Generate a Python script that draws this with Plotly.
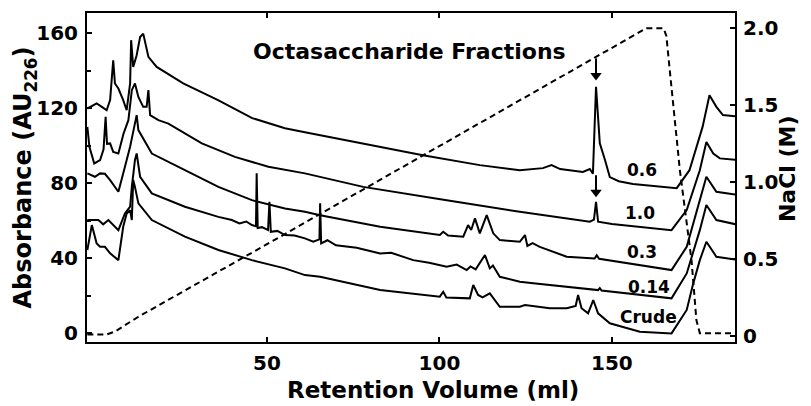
import plotly.graph_objects as go

# ---------------- data ----------------
vol_06 = [-2.1, 0.6, 2.1, 3.5, 4.5, 5.4, 5.9, 6.9, 8.3, 9.3, 10.3, 10.6, 11.2, 12.2, 13.2, 14.1,
          15.6, 18.0, 25.7, 35.8, 45.7, 55.2, 61.0, 73.2, 95.2, 111.7, 123.3, 130.0, 132.5, 135.0,
          141.6, 143.6, 144.5, 145.4, 146.5, 148.0, 149.4, 152.0, 156.1, 168.8, 172.5, 176.3,
          178.3, 180.3, 182.2, 187.0]
au_06 = [119.8, 122.5, 120.7, 118.9, 124.3, 145.6, 133.2, 130.5, 124.3, 118.9, 133.2, 156.3, 142.0,
         148.3, 158.0, 159.8, 147.4, 142.0, 133.2, 124.3, 114.7, 109.3, 107.2, 102.9, 94.9, 89.6,
         86.9, 88.0, 89.6, 87.5, 86.0, 87.5, 85.0, 131.4, 101.3, 92.3, 83.2, 81.0, 79.5, 77.3,
         86.9, 110.0, 126.9, 120.7, 116.3, 115.4]

vol_10 = [-2.1, -1.5, -0.1, 1.6, 2.6, 3.2, 3.6, 4.5, 5.4, 6.9, 8.4, 9.8, 10.8, 11.7, 12.7, 14.1,
          15.1, 15.6, 16.1, 18.5, 21.4, 31.1, 40.7, 50.4, 61.0, 77.9, 102.1, 123.3, 143.6, 144.8,
          145.4, 146.0, 150.0, 167.3, 171.7, 175.5, 177.4, 179.4, 181.3, 187.0]
au_10 = [110.0, 99.4, 90.5, 92.3, 98.0, 115.4, 101.0, 101.2, 96.7, 95.8, 106.5, 113.6, 129.6,
         133.2, 126.0, 120.7, 120.7, 129.6, 116.3, 113.6, 111.8, 101.2, 94.0, 88.7, 85.2, 78.0,
         70.9, 64.7, 59.4, 60.5, 70.0, 59.4, 58.2, 54.9, 65.6, 86.9, 102.0, 95.8, 93.2, 92.3]

vol_03 = [-2.1, 0.1, 1.6, 3.0, 4.5, 6.9, 8.8, 10.3, 11.3, 12.2, 12.7, 16.6, 26.2, 35.9, 45.6,
          55.2, 61.0, 65.4, 82.8, 100.1, 101.1, 102.5, 106.9, 108.3, 109.2, 110.3, 111.7, 113.7,
          115.6, 117.5, 123.3, 124.8, 125.5, 127.0, 129.1, 136.9, 145.0, 145.6, 146.3, 167.3,
          171.7, 175.5, 177.4, 180.3, 187.0]
au_03 = [85.2, 83.4, 85.2, 85.0, 81.6, 75.4, 88.7, 99.4, 108.3, 116.3, 108.3, 95.8, 86.9, 78.0,
         70.9, 66.5, 64.7, 62.9, 56.7, 52.3, 54.0, 52.0, 51.4, 57.6, 55.0, 61.2, 53.2, 62.9, 53.2,
         49.6, 48.7, 52.3, 46.5, 48.0, 46.0, 40.7, 39.8, 41.5, 39.6, 33.6, 46.0, 70.9, 83.4,
         75.4, 73.6]

vol_014 = [-2.1, 1.1, 2.5, 4.0, 6.9, 8.8, 10.3, 10.8, 11.7, 12.2, 13.2, 16.6, 26.2, 35.9, 39.8,
           42.0, 44.0, 45.6, 46.8, 47.0, 47.3, 48.5, 50.3, 50.7, 51.1, 53.0, 55.2, 58.0, 61.0,
           63.4, 65.2, 65.4, 65.7, 67.5, 70.0, 73.1, 76.0, 82.8, 86.0, 92.4, 97.0, 102.1, 105.0,
           107.9, 109.0, 110.5, 113.2, 114.6, 115.5, 117.5, 123.3, 127.2, 146.0, 146.5, 147.0,
           167.3, 171.7, 175.5, 177.4, 180.3, 187.0]
au_014 = [60.3, 60.3, 58.0, 60.3, 54.9, 63.8, 67.4, 78.0, 92.3, 95.8, 83.4, 74.5, 67.4, 62.0,
          60.3, 58.5, 59.5, 57.6, 57.0, 85.2, 56.0, 56.5, 55.0, 70.0, 54.0, 54.5, 52.3, 52.0,
          50.5, 48.7, 50.0, 69.2, 47.8, 49.5, 46.8, 46.0, 45.5, 42.5, 42.8, 38.9, 37.5, 35.4,
          36.5, 33.6, 35.5, 34.0, 41.6, 34.5, 36.0, 30.0, 27.4, 26.5, 22.9, 24.0, 22.7, 18.5,
          31.8, 54.9, 68.3, 60.3, 57.6]

vol_crude = [-2.1, -0.8, 0.6, 1.6, 3.0, 4.5, 6.9, 8.3, 9.3, 10.3, 10.8, 11.2, 11.7, 12.7, 16.6,
             26.2, 35.9, 45.6, 55.2, 61.0, 65.4, 82.8, 100.1, 101.1, 102.0, 108.8, 109.8, 111.2,
             112.5, 114.6, 117.5, 123.3, 124.8, 132.0, 136.9, 139.5, 140.2, 141.2, 143.1, 144.6,
             146.0, 149.4, 158.1, 167.3, 171.7, 173.6, 175.5, 177.4, 180.3, 187.0]
au_crude = [44.3, 57.6, 47.8, 46.0, 46.0, 42.5, 38.9, 56.7, 63.8, 65.6, 60.3, 81.6, 78.0, 69.2,
            60.3, 51.4, 44.3, 38.9, 34.5, 30.9, 30.0, 22.9, 19.4, 22.0, 19.0, 18.5, 25.6, 20.3,
            19.0, 21.2, 14.0, 14.0, 14.9, 13.2, 13.2, 14.5, 20.3, 13.2, 10.5, 17.6, 10.5, 5.2,
            0.7, -0.2, 12.3, 26.5, 38.9, 48.7, 40.7, 38.9]

nacl_vol = [-2.1, 3.5, 6.0, 9.0, 12.7, 53.8, 123.3, 143.6, 156.0, 158.5, 160.0, 165.0, 165.8,
            166.5, 169.7, 173.1, 174.5, 175.5, 187.0]
nacl_molar = [0.01, 0.01, 0.03, 0.075, 0.125, 0.645, 1.532, 1.79, 1.95, 1.985, 2.0, 2.0, 1.95,
              1.79, 1.08, 0.49, 0.104, 0.018, 0.018]

fraction_labels = ["0.6", "1.0", "0.3", "0.14", "Crude"]
arrow_volume = 145.4
arrow_tip_au = [134.9, 72.5]

x_ticks = [50, 100, 150]
y_left_ticks = [0, 40, 80, 120, 160]
y_right_ticks = [0, 0.5, 1.0, 1.5, 2.0]
y_right_text = ["0", "0.5", "1.0", "1.5", "2.0"]

# ---------------- figure ----------------
FONT = "DejaVu Sans"
BLACK = "#000000"

fig = go.Figure()
series = [(vol_06, au_06), (vol_10, au_10), (vol_03, au_03), (vol_014, au_014),
          (vol_crude, au_crude)]
for xs, ys in series:
    fig.add_trace(go.Scatter(x=xs, y=ys, mode="lines",
                             line=dict(color=BLACK, width=2), hoverinfo="skip"))

fig.add_trace(go.Scatter(x=nacl_vol, y=nacl_molar, mode="lines", yaxis="y2",
                         line=dict(color=BLACK, width=2, dash="6px,4px"), hoverinfo="skip"))

# arrows marking the octasaccharide peak (shaft + triangular head)
for tip in arrow_tip_au:
    fig.add_trace(go.Scatter(x=[arrow_volume, arrow_volume], y=[tip + 11.7, tip + 3.0],
                             mode="lines", line=dict(color=BLACK, width=2), hoverinfo="skip"))
    fig.add_trace(go.Scatter(x=[arrow_volume], y=[tip + 2.6], mode="markers",
                             marker=dict(symbol="triangle-down", size=10, color=BLACK,
                                         line=dict(width=0)), hoverinfo="skip"))

tickfont = dict(family=FONT, size=20, color=BLACK, weight="bold")

fig.update_layout(
    width=811, height=406,
    margin=dict(l=87, r=76, t=13, b=64, pad=0),
    paper_bgcolor="white", plot_bgcolor="white",
    showlegend=False,
    xaxis=dict(range=[-2.2, 185.7], showline=True, linewidth=2, linecolor=BLACK,
               mirror="ticks", ticks="inside", ticklen=5, tickwidth=2, tickcolor=BLACK,
               tickmode="array", tickvals=x_ticks, tickfont=tickfont,
               showgrid=False, zeroline=False, ticklabelstandoff=2),
    yaxis=dict(range=[-4.8, 170.8], showline=True, linewidth=2, linecolor=BLACK,
               ticks="inside", ticklen=5, tickwidth=2, tickcolor=BLACK,
               tickmode="array", tickvals=y_left_ticks, tickfont=tickfont,
               minor=dict(tickmode="array", tickvals=[20, 60, 100, 140], ticks="inside",
                          ticklen=4, tickwidth=2, tickcolor=BLACK),
               showgrid=False, zeroline=False, ticklabelstandoff=3),
    yaxis2=dict(range=[-0.039, 2.099], overlaying="y", side="right", showline=True,
                linewidth=2, linecolor=BLACK, ticks="inside", ticklen=5, tickwidth=2,
                tickcolor=BLACK, tickmode="array", tickvals=y_right_ticks,
                ticktext=y_right_text, tickfont=tickfont, showgrid=False, zeroline=False,
                ticklabelstandoff=2),
)

# fraction labels
label_pos = [(158.8, 86.9), (158.1, 63.8), (158.6, 43.4), (160.7, 24.7), (160.5, 8.7)]
for text, (lx, ly) in zip(fraction_labels, label_pos):
    fig.add_annotation(x=lx, y=ly, xref="x", yref="y", text=text, showarrow=False,
                       font=dict(family=FONT, size=17, color=BLACK, weight="bold"),
                       xanchor="center", yanchor="middle")

# title inside the plot
fig.add_annotation(x=91.2, y=150.5, xref="x", yref="y", text="Octasaccharide Fractions",
                   showarrow=False, font=dict(family=FONT, size=22, color=BLACK, weight="bold"),
                   xanchor="center", yanchor="middle")

# axis titles
fig.add_annotation(x=-0.0957, y=0.5, xref="paper", yref="paper", textangle=-90,
                   text="Absorbance (AU<sub>226</sub>)", showarrow=False,
                   font=dict(family=FONT, size=24, color=BLACK, weight="bold"),
                   xanchor="center", yanchor="middle")
fig.add_annotation(x=0.534, y=-0.145, xref="paper", yref="paper",
                   text="Retention Volume (ml)", showarrow=False,
                   font=dict(family=FONT, size=23, color=BLACK, weight="bold"),
                   xanchor="center", yanchor="middle")
fig.add_annotation(x=1.082, y=0.526, xref="paper", yref="paper", textangle=-90,
                   text="NaCl (M)", showarrow=False,
                   font=dict(family=FONT, size=22, color=BLACK, weight="bold"),
                   xanchor="center", yanchor="middle")

fig.write_html("out.html")
